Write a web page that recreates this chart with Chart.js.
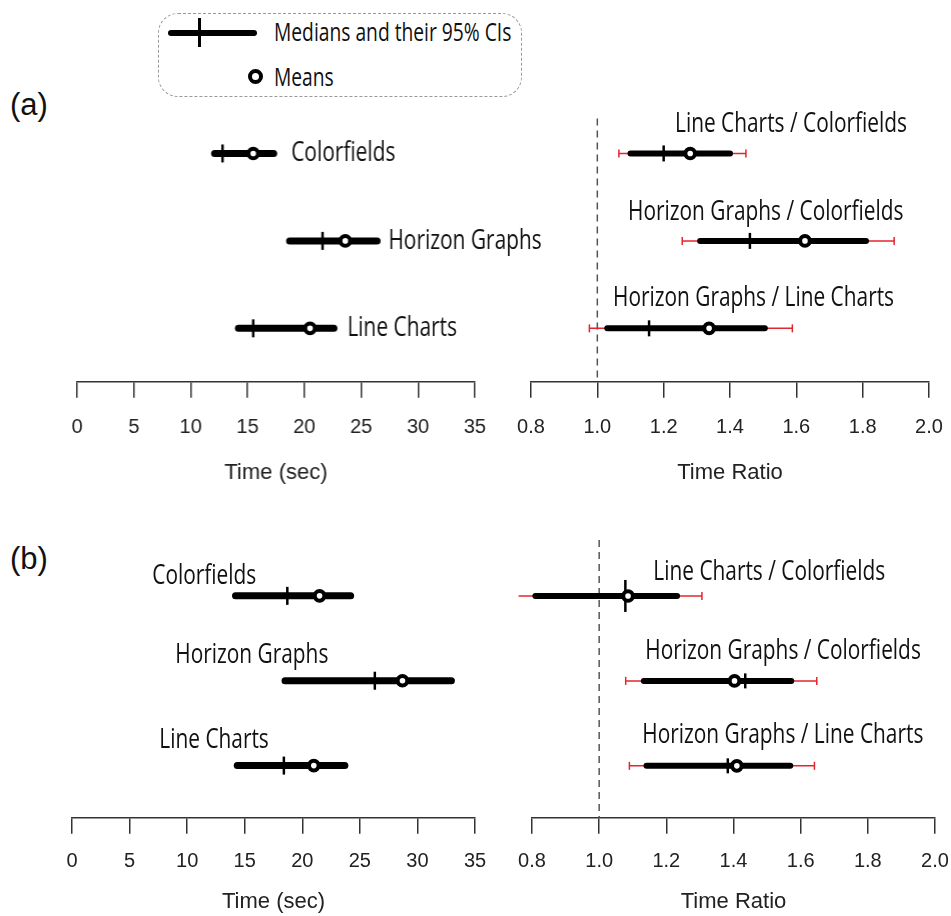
<!DOCTYPE html>
<html>
<head>
<meta charset="utf-8">
<script src="https://cdn.jsdelivr.net/npm/chart.js@4"></script>
<style>
  body { margin: 0; background: #fff; width: 951px; height: 916px; position: relative; overflow: hidden; }
  canvas { position: absolute; }
  .abs { position: absolute; }
  .tag { font-family: "Liberation Sans", Arial, sans-serif; font-size: 31px; line-height: 40px; color: #111; }
  .lgtext { font-family: "Open Sans", sans-serif; font-size: 26px; line-height: 30px; color: #111;
            transform: scaleX(0.74); transform-origin: left center; white-space: nowrap; }
</style>
</head>
<body>
<div class="abs tag" style="left:10px;top:85px">(a)</div>
<div class="abs tag" style="left:10px;top:539px">(b)</div>

<div class="abs" style="left:158px;top:13px;width:362px;height:82px;border:1.5px dashed #999;border-radius:20px"></div>
<div class="abs" style="left:168px;top:30px;width:89px;height:6px;border-radius:3px;background:#000"></div>
<div class="abs" style="left:198px;top:18px;width:3px;height:29px;background:#000"></div>
<div class="abs lgtext" style="left:274px;top:16px">Medians and their 95% CIs</div>
<div class="abs" style="left:248px;top:69px;width:7px;height:7px;border:4px solid #000;border-radius:50%;background:#fff"></div>
<div class="abs lgtext" style="left:274px;top:61px">Means</div>

<script>
// categories and tick labels
const timeCategories = ['Colorfields', 'Horizon Graphs', 'Line Charts'];
const ratioCategories = ['Line Charts / Colorfields', 'Horizon Graphs / Colorfields', 'Horizon Graphs / Line Charts'];
const timeTickValues = [0, 5, 10, 15, 20, 25, 30, 35];
const timeTickLabels = ['0', '5', '10', '15', '20', '25', '30', '35'];
const ratioTickValues = [0.8, 1.0, 1.2, 1.4, 1.6, 1.8, 2.0];
const ratioTickLabels = ['0.8', '1.0', '1.2', '1.4', '1.6', '1.8', '2.0'];
const refRatio = 1.0;

// (a) time, seconds
const aTimeLow = [12.1, 18.7, 14.2];
const aTimeHigh = [17.3, 26.4, 22.6];
const aTimeMedian = [12.8, 21.6, 15.5];
const aTimeMean = [15.5, 23.6, 20.5];

// (a) time ratio: median CIs and adjusted (red) CIs
const aRatioLow = [1.10, 1.31, 1.03];
const aRatioHigh = [1.40, 1.81, 1.505];
const aRatioAdjLow = [1.065, 1.256, 0.976];
const aRatioAdjHigh = [1.448, 1.895, 1.588];
const aRatioMedian = [1.20, 1.46, 1.156];
const aRatioMean = [1.28, 1.626, 1.337];

// (b) time, seconds
const bTimeLow = [14.2, 18.5, 14.35];
const bTimeHigh = [24.2, 32.95, 23.7];
const bTimeMedian = [18.7, 26.3, 18.4];
const bTimeMean = [21.5, 28.7, 21.0];

// (b) time ratio
const bRatioLow = [0.81, 1.133, 1.141];
const bRatioHigh = [1.232, 1.572, 1.569];
const bRatioAdjLow = [0.76, 1.079, 1.09];
const bRatioAdjHigh = [1.306, 1.648, 1.641];
const bRatioMedian = [1.078, 1.435, 1.383];
const bRatioMean = [1.086, 1.403, 1.41];

const RED = '#e3262e';

// draws the row names next to / above the intervals
const rowLabels = {
  id: 'rowLabels',
  afterDatasetsDraw(chart, args, opts) {
    const ctx = chart.ctx;
    const ys = chart.scales.y;
    ctx.save();
    ctx.fillStyle = '#111';
    ctx.font = '28px "Open Sans"';
    ctx.textBaseline = 'middle';
    opts.labels.forEach((t, i) => {
      const x = opts.pos[i][0] - opts.left;
      const y = ys.getPixelForValue(i + 1) + opts.pos[i][1];
      ctx.save();
      ctx.translate(x, y);
      ctx.scale(0.745, 1);
      ctx.fillText(t, 0, 0);
      ctx.restore();
    });
    ctx.restore();
  }
};

function makePanel(cfg) {
  const left = cfg.x0 - cfg.padL;
  const width = cfg.x1 - cfg.x0 + cfg.padL + cfg.padR;
  const top = cfg.row1 - cfg.gap - cfg.padT;
  const axisH = cfg.titleY + 13.2 - cfg.axisY;
  const height = cfg.axisY - top + axisH;
  const yMax = 1 + (cfg.axisY - cfg.row1) / cfg.gap;

  const canvas = document.createElement('canvas');
  canvas.width = width;
  canvas.height = height;
  canvas.style.left = left + 'px';
  canvas.style.top = top + 'px';
  canvas.style.width = width + 'px';
  canvas.style.height = height + 'px';
  document.body.appendChild(canvas);

  const datasets = [];
  if (cfg.dashTop !== undefined) {
    datasets.push({
      data: [{x: refRatio, y: cfg.dashTop}, {x: refRatio, y: yMax}],
      showLine: true, borderColor: '#555', borderWidth: 1.5, borderDash: [7, 5],
      pointRadius: 0, order: 6, clip: false
    });
  }
  if (cfg.adjLow) {
    cfg.adjLow.forEach((lo, i) => {
      datasets.push({
        data: [{x: lo, y: i + 1}, {x: cfg.adjHigh[i], y: i + 1}],
        showLine: true, borderColor: RED, borderWidth: 1.5,
        pointStyle: 'line', pointRotation: 90, pointRadius: 4,
        pointBorderColor: RED, pointBorderWidth: 1.5, order: 5, clip: false
      });
    });
  }
  cfg.low.forEach((lo, i) => {
    datasets.push({
      data: [{x: lo, y: i + 1}, {x: cfg.high[i], y: i + 1}],
      showLine: true, borderColor: '#000', borderWidth: cfg.thick, borderCapStyle: 'round',
      pointRadius: 0, order: 4, clip: false
    });
  });
  datasets.push({
    data: cfg.median.map((m, i) => ({x: m, y: i + 1})),
    pointStyle: 'line', pointRotation: 90, pointRadius: cfg.tickR,
    pointBorderColor: '#000', pointBorderWidth: 2.5, order: 2, clip: false
  });
  datasets.push({
    data: cfg.mean.map((m, i) => ({x: m, y: i + 1})),
    pointStyle: 'circle', pointRadius: 4.8, pointBorderWidth: 4,
    pointBorderColor: '#000', pointBackgroundColor: '#fff', order: 1, clip: false
  });

  new Chart(canvas.getContext('2d'), {
    type: 'scatter',
    data: {datasets: datasets},
    options: {
      responsive: false,
      animation: false,
      events: [],
      devicePixelRatio: 1,
      layout: {autoPadding: false, padding: {left: cfg.padL, right: cfg.padR, top: cfg.padT, bottom: 0}},
      plugins: {
        legend: {display: false},
        tooltip: {enabled: false},
        rowLabels: {labels: cfg.labels, pos: cfg.labelPos, left: left}
      },
      scales: {
        x: {
          type: 'linear', min: cfg.ticks[0], max: cfg.ticks[cfg.ticks.length - 1],
          afterBuildTicks: s => { s.ticks = cfg.ticks.map(v => ({value: v})); },
          afterFit: s => { s.height = axisH; },
          grid: {drawOnChartArea: false, drawTicks: true, tickLength: 16, color: '#333', lineWidth: 1.5},
          border: {display: true, color: '#333', width: 1.5},
          ticks: {
            padding: cfg.tickPad, autoSkip: false, maxRotation: 0, color: '#222',
            font: {family: '"Liberation Sans", Arial', size: 20},
            callback: (v, i) => cfg.tickLabels[i]
          },
          title: {display: true, text: cfg.title, color: '#222', padding: 0,
                  font: {family: '"Liberation Sans", Arial', size: 22}}
        },
        y: {type: 'linear', min: 0, max: yMax, reverse: true, display: false}
      }
    },
    plugins: [rowLabels]
  });
}

makePanel({
  x0: 77.3, x1: 475, axisY: 382, row1: 153.5, gap: 87.5, padL: 40, padR: 110, padT: 0,
  tickPad: 18, titleY: 473, title: 'Time (sec)', thick: 7, tickR: 9,
  ticks: timeTickValues, tickLabels: timeTickLabels,
  low: aTimeLow, high: aTimeHigh, median: aTimeMedian, mean: aTimeMean,
  labels: timeCategories, labelPos: [[291, 0], [388, 0], [347, 0]]
});
makePanel({
  x0: 531, x1: 929, axisY: 382, row1: 153.5, gap: 87.5, padL: 40, padR: 40, padT: 0,
  tickPad: 18, titleY: 473, title: 'Time Ratio', thick: 6, tickR: 8, dashTop: 0.6,
  ticks: ratioTickValues, tickLabels: ratioTickLabels,
  low: aRatioLow, high: aRatioHigh, adjLow: aRatioAdjLow, adjHigh: aRatioAdjHigh,
  median: aRatioMedian, mean: aRatioMean,
  labels: ratioCategories, labelPos: [[675, -29], [628, -29], [613, -30]]
});
makePanel({
  x0: 71.7, x1: 475, axisY: 818, row1: 595.7, gap: 85, padL: 40, padR: 40, padT: 0,
  tickPad: 16, titleY: 902, title: 'Time (sec)', thick: 7, tickR: 9,
  ticks: timeTickValues, tickLabels: timeTickLabels,
  low: bTimeLow, high: bTimeHigh, median: bTimeMedian, mean: bTimeMean,
  labels: timeCategories, labelPos: [[152, -20], [175, -26], [159, -26]]
});
makePanel({
  x0: 531.7, x1: 935, axisY: 818, row1: 596, gap: 85, padL: 40, padR: 40, padT: 0,
  tickPad: 16, titleY: 902, title: 'Time Ratio', thick: 6, tickR: [16, 7.5, 7.5], dashTop: 0.34,
  ticks: ratioTickValues, tickLabels: ratioTickLabels,
  low: bRatioLow, high: bRatioHigh, adjLow: bRatioAdjLow, adjHigh: bRatioAdjHigh,
  median: bRatioMedian, mean: bRatioMean,
  labels: ratioCategories, labelPos: [[653, -24], [645, -30], [642, -31]]
});
</script>
</body>
</html>
